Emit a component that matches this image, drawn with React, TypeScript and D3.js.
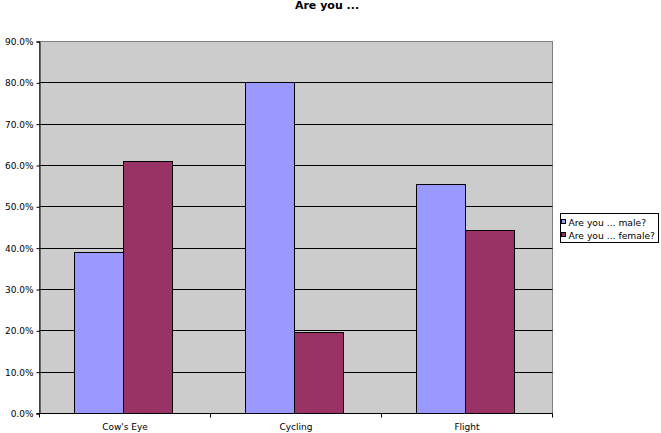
import React, { useEffect, useRef } from 'react';
import * as d3 from 'd3';

const categories = ["Cow's Eye", 'Cycling', 'Flight'];
const seriesNames = ['Are you ... male?', 'Are you ... female?'];
const maleValues = [0.39, 0.802, 0.556];
const femaleValues = [0.61, 0.198, 0.444];
const yTicks = [0, 0.1, 0.2, 0.3, 0.4, 0.5, 0.6, 0.7, 0.8, 0.9];
const colors = ['#9999FF', '#993366'];

const width = 661;
const height = 433;
const font = '"DejaVu Sans", sans-serif';

const App: React.FC = () => {
  const svgRef = useRef<SVGSVGElement>(null);

  useEffect(() => {
    if (!svgRef.current) return;
    const svg = d3.select(svgRef.current);
    svg.selectAll('*').remove();

    const plot = { left: 39.5, right: 552.5, top: 41.5, bottom: 413.5 };

    const xScale = d3.scaleBand<string>()
      .domain(categories)
      .range([plot.left, plot.right]);

    const innerScale = d3.scaleBand<string>()
      .domain(seriesNames)
      .range([0, xScale.bandwidth()])
      .paddingOuter(0.745)
      .align(0.47);

    const yScale = d3.scaleLinear()
      .domain([0, 0.9])
      .range([plot.bottom, plot.top]);

    // plot background
    svg.append('rect')
      .attr('x', plot.left)
      .attr('y', plot.top)
      .attr('width', plot.right - plot.left)
      .attr('height', plot.bottom - plot.top)
      .attr('fill', '#CCCCCC')
      .attr('stroke', '#808080')
      .attr('stroke-width', 1);

    // gridlines
    svg.append('g')
      .selectAll('line')
      .data(yTicks.slice(1, -1))
      .enter()
      .append('line')
      .attr('x1', plot.left)
      .attr('x2', plot.right)
      .attr('y1', d => Math.round(yScale(d) - 0.5) + 0.5)
      .attr('y2', d => Math.round(yScale(d) - 0.5) + 0.5)
      .attr('stroke', '#000')
      .attr('stroke-width', 1);

    // bars
    const data = categories.flatMap((c, i) => [
      { cat: c, series: seriesNames[0], value: maleValues[i], color: colors[0] },
      { cat: c, series: seriesNames[1], value: femaleValues[i], color: colors[1] },
    ]);

    svg.append('g')
      .selectAll('rect')
      .data(data)
      .enter()
      .append('rect')
      .attr('x', d => Math.round((xScale(d.cat) ?? 0) + (innerScale(d.series) ?? 0)) + 0.5)
      .attr('y', d => Math.round(yScale(d.value)) + 0.5)
      .attr('width', Math.round(innerScale.bandwidth()))
      .attr('height', d => plot.bottom - (Math.round(yScale(d.value)) + 0.5))
      .attr('fill', d => d.color)
      .attr('stroke', '#000')
      .attr('stroke-width', 1);

    // y axis
    const yAxis = svg.append('g')
      .attr('transform', `translate(${plot.left},0)`)
      .call(d3.axisLeft(yScale).tickValues(yTicks).tickSize(3).tickPadding(3)
        .tickFormat(d => d3.format('.1%')(d as number)));
    yAxis.select('.domain').attr('stroke', '#000');
    yAxis.selectAll('text')
      .style('font-family', font)
      .style('font-size', '9px')
      .attr('fill', '#000');

    // x axis
    const xAxis = svg.append('g')
      .attr('transform', `translate(0,${plot.bottom})`);
    xAxis.append('line')
      .attr('x1', plot.left - 3)
      .attr('x2', plot.right)
      .attr('stroke', '#000');
    xAxis.selectAll('line.tick')
      .data(categories.map(c => xScale(c) ?? 0).concat([plot.right]))
      .enter()
      .append('line')
      .attr('class', 'tick')
      .attr('x1', d => Math.round(d - 0.5) + 0.5)
      .attr('x2', d => Math.round(d - 0.5) + 0.5)
      .attr('y1', 0)
      .attr('y2', 4)
      .attr('stroke', '#000');
    xAxis.selectAll('text')
      .data(categories)
      .enter()
      .append('text')
      .attr('x', d => (xScale(d) ?? 0) + xScale.bandwidth() / 2)
      .attr('y', 16)
      .attr('text-anchor', 'middle')
      .style('font-family', font)
      .style('font-size', '9px')
      .text(d => d);

    // title
    svg.append('text')
      .attr('x', 327)
      .attr('y', 9)
      .attr('text-anchor', 'middle')
      .style('font-family', font)
      .style('font-size', '11px')
      .style('font-weight', 'bold')
      .text('Are you ...');

    // legend
    const legend = svg.append('g').attr('transform', 'translate(560.5,213.5)');
    legend.append('rect')
      .attr('width', 98)
      .attr('height', 29)
      .attr('fill', '#fff')
      .attr('stroke', '#000');
    const items = legend.selectAll('g.item')
      .data(seriesNames)
      .enter()
      .append('g')
      .attr('class', 'item')
      .attr('transform', (_, i) => `translate(0,${6 + i * 13})`);
    items.append('rect')
      .attr('x', 1)
      .attr('y', 0)
      .attr('width', 4)
      .attr('height', 4)
      .attr('fill', (_, i) => colors[i])
      .attr('stroke', '#000');
    items.append('text')
      .attr('x', 8)
      .attr('y', 6)
      .style('font-family', font)
      .style('font-size', '9.2px')
      .text(d => d);
  }, []);

  return (
    <svg
      ref={svgRef}
      width={width}
      height={height}
      style={{ position: 'absolute', left: 0, top: 0, background: '#fff' }}
    />
  );
};

export default App;
